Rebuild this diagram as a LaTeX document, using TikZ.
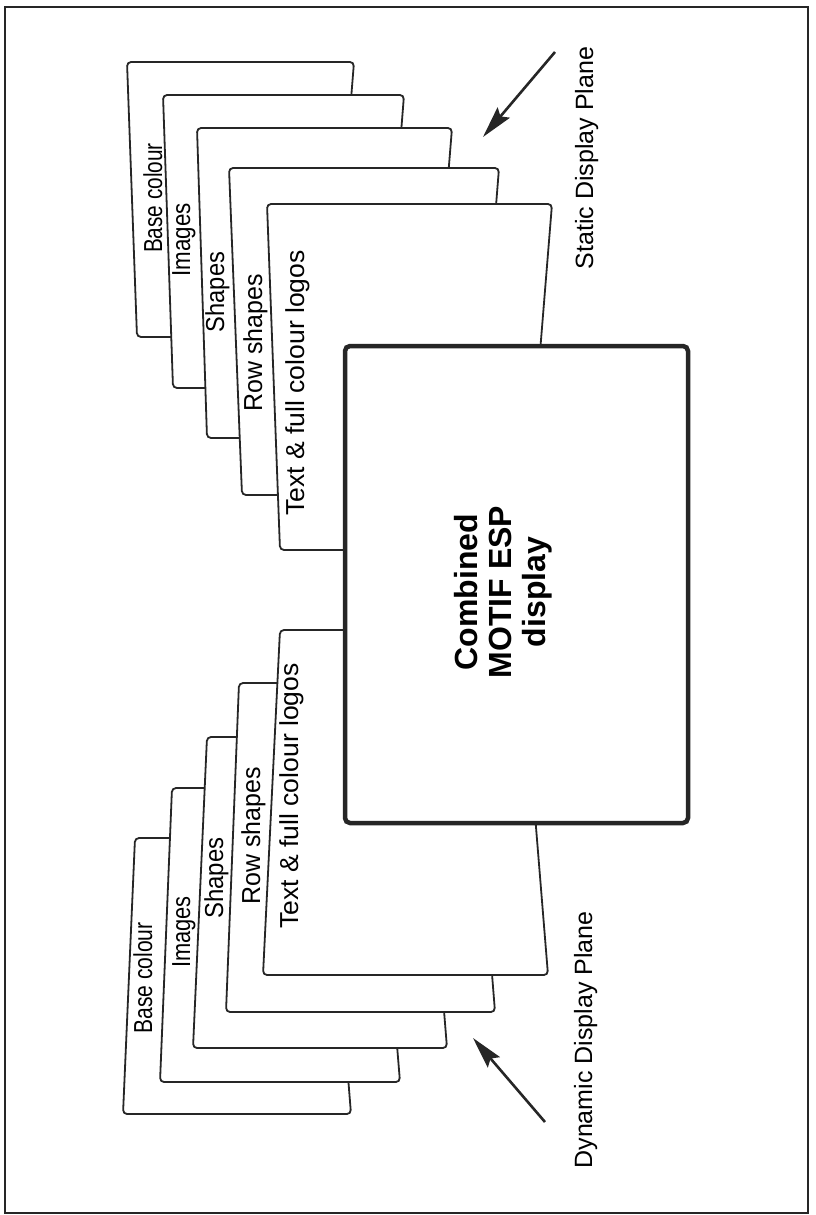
\documentclass[tikz,border=0pt]{standalone}
\usepackage{fontspec}
\setmainfont{Liberation Sans}
\usetikzlibrary{arrows.meta}
\tikzset{
  card/.style={draw=black!85,fill=white,line width=1.8pt,rounded corners=4pt},
  lbl/.style={rotate=90,anchor=base,inner sep=0pt,
              font=\fontsize{26}{30}\selectfont},
  plane/.style={rotate=90,anchor=base,inner sep=0pt,
                font=\fontsize{25}{30}\selectfont},
  mainbox/.style={draw=black!85,fill=white,line width=4.5pt,rounded corners=5pt,
                  minimum width=343pt,minimum height=477pt,inner sep=0pt},
  arr/.style={-{Stealth[length=32pt,width=16pt,inset=5pt]},line width=2.6pt,draw=black!85}
}

\begin{document}
\begin{tikzpicture}[x=1pt,y=-1pt]
  \useasboundingbox (0,0) rectangle (816,1215);
  \draw[line width=2pt,black!85] (5,7) rectangle (808,1213);

  % static display plane
  \foreach \yo/\yi/\lo/\li/\ro/\ri/\tx/\ty/\sx/\txt [count=\n] in {
      62/337/127/137/354/332/162/198/0.80/{Base colour},
      95/388/163/173/404/381/190/240/0.86/{Images},
      128/438/197/207/452/427/224/292/0.91/{Shapes},
      168/495/229/242/499/473/262/343/0.96/{Row shapes},
      204/550/267/280/552/524/304/383/1.02/{Text \& full colour logos}}
  {
    \filldraw[card] (\lo,\yo) -- (\ro,\yo) -- (\ri,\yi) -- (\li,\yi) -- cycle;
    \node[lbl] (st\n) at (\tx,\ty) {\scalebox{\sx}[1]{\txt}};
  }

  % dynamic display plane
  \foreach \yo/\yi/\lo/\li/\ro/\ri/\tx/\ty/\sx/\txt [count=\n] in {
      1114/838/123/135/351/329/152/978/0.81/{Base colour},
      1082/788/160/172/400/376/190/932/0.84/{Images},
      1048/737/193/207/447/422/223/878/0.92/{Shapes},
      1012/683/226/239/495/469/260/836/0.96/{Row shapes},
      975/630/263/280/548/520/298/796/1.02/{Text \& full colour logos}}
  {
    \filldraw[card] (\lo,\yo) -- (\ro,\yo) -- (\ri,\yi) -- (\li,\yi) -- cycle;
    \node[lbl] (dy\n) at (\tx,\ty) {\scalebox{\sx}[1]{\txt}};
  }

  \node[mainbox] (disp) at (516.5,584.5) {};
  \node[rotate=90,align=center,font=\bfseries\fontsize{32}{34}\selectfont]
    (title) at (503,592) {Combined\\MOTIF ESP\\display};

  \node[plane] (spl) at (593,158) {Static Display Plane};
  \node[plane] (dpl) at (592,1040) {Dynamic Display Plane};

  \coordinate (sTail) at (555,52);
  \coordinate (sTip) at (483,137);
  \coordinate (dTail) at (545,1122);
  \coordinate (dTip) at (473,1038);
  \draw[arr] (sTail) -- (sTip);
  \draw[arr] (dTail) -- (dTip);
\end{tikzpicture}
\end{document}
